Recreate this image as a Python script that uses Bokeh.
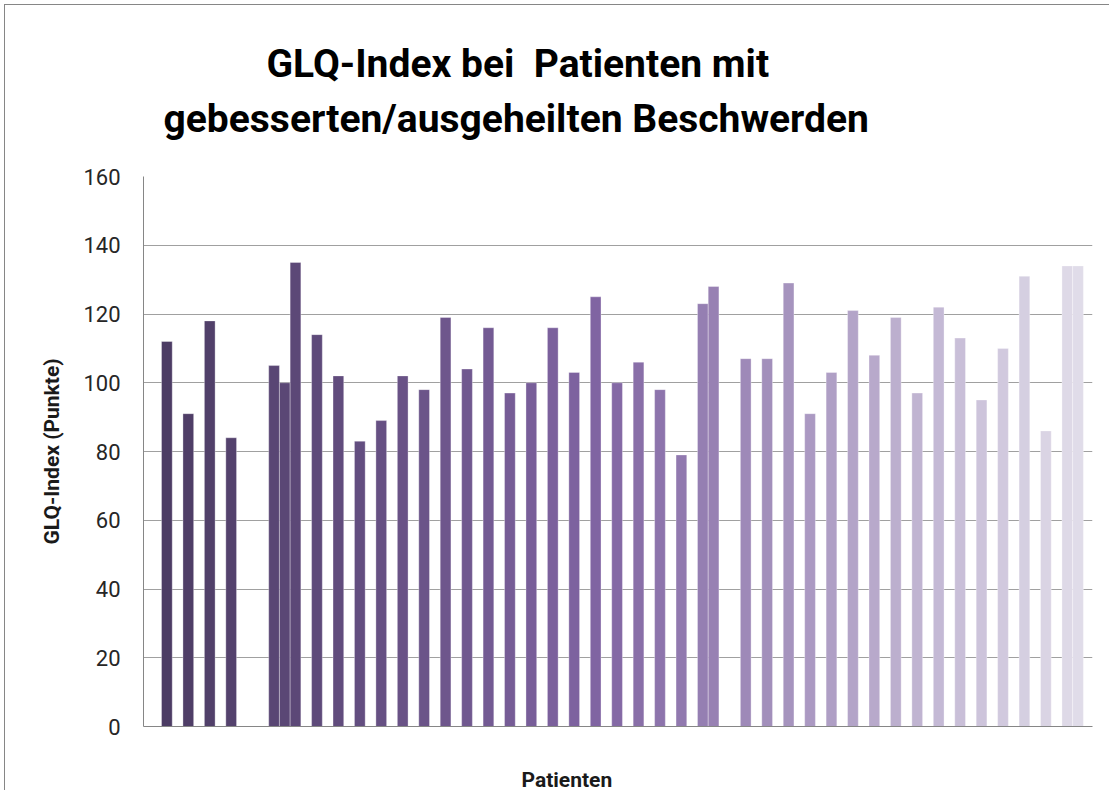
from bokeh.plotting import figure
from bokeh.models import Range1d, Title, FixedTicker, ColumnDataSource
from bokeh.embed import file_html
from bokeh.resources import INLINE

# ---- data -------------------------------------------------------------
title_lines = ["GLQ-Index bei\u00a0 Patienten mit", "gebesserten/ausgeheilten Beschwerden"]
y_title = "GLQ-Index (Punkte)"
x_title = "Patienten"
y_ticks = [0, 20, 40, 60, 80, 100, 120, 140, 160]

# GLQ index per patient column (None = empty cell in the sheet)
glq_index = [112, None, 91, None, 118, None, 84, None, None, None,
             105, 100, 135, None, 114, None, 102, None, 83, None,
             89, None, 102, None, 98, None, 119, None, 104, None,
             116, None, 97, None, 100, None, 116, None, 103, None,
             125, None, 100, None, 106, None, 98, None, 79, None,
             123, 128, None, None, 107, None, 107, None, 129, None,
             91, None, 103, None, 121, None, 108, None, 119, None,
             97, None, 122, None, 113, None, 95, None, 110, None,
             131, None, 86, None, 134, 134]

# ---- styling helpers --------------------------------------------------
dark = (76, 60, 100)
base = (128, 100, 162)
light = (224, 220, 233)
n = len(glq_index)


def shade(i):
    t = i / (n - 1)
    if t < 0.47:
        a, b, f = dark, base, t / 0.47
    else:
        a, b, f = base, light, (t - 0.47) / 0.53
    r, g, bl = (round(a[k] + (b[k] - a[k]) * f) for k in range(3))
    return "#%02x%02x%02x" % (r, g, bl)


xs, tops, cols = [], [], []
for i, v in enumerate(glq_index):
    if v is None:
        continue
    xs.append(i + 0.5)
    tops.append(v)
    cols.append(shade(i))

src = ColumnDataSource(dict(x=xs, top=tops, color=cols))

FONT = "Roboto"

p = figure(width=1105, height=786, output_backend="svg", toolbar_location=None,
           title=None,
           x_range=Range1d(-1.68, 86.85), y_range=Range1d(0, 160),
           min_border_left=138, min_border_right=18, min_border_top=171,
           min_border_bottom=64,
           styles={"border-top": "1px solid #868686", "border-left": "1px solid #868686",
                   "margin-left": "4px", "margin-top": "4px"})
p.outline_line_color = None
p.background_fill_color = "white"
p.border_fill_color = "white"

p.vbar(x="x", top="top", bottom=0, width=1.0, color="color", source=src,
       line_color="white", line_alpha=0.55, line_width=0.6)

# y axis
p.yaxis.ticker = FixedTicker(ticks=y_ticks)
p.yaxis.axis_line_color = "#868686"
p.yaxis.major_tick_line_color = None
p.yaxis.major_tick_out = 0
p.yaxis.major_tick_in = 0
p.yaxis.minor_tick_line_color = None
p.yaxis.major_label_text_font = FONT
p.yaxis.major_label_text_font_size = "22px"
p.yaxis.major_label_text_color = "#262626"
p.yaxis.major_label_standoff = 23
p.yaxis.axis_label = y_title
p.yaxis.axis_label_text_font = FONT
p.yaxis.axis_label_text_font_style = "bold"
p.yaxis.axis_label_text_font_size = "21px"
p.yaxis.axis_label_text_color = "#1a1a1a"
p.yaxis.axis_label_standoff = 16

# x axis: line only
p.xaxis.ticker = FixedTicker(ticks=[])
p.xaxis.axis_line_color = "#868686"
p.xaxis.major_tick_line_color = None
p.xaxis.minor_tick_line_color = None
p.xaxis.major_label_text_font_size = "0px"

p.xgrid.grid_line_color = None
p.ygrid.ticker = FixedTicker(ticks=y_ticks)
p.ygrid.grid_line_color = "#a0a0a0"
p.ygrid.grid_line_width = 1

# titles (stacked outward from the plot frame)
spacer_top = Title(text=" ", text_font_size="1px", standoff=32)
t2 = Title(text=title_lines[1], align="left", offset=20, standoff=0,
           text_font=FONT, text_font_style="bold", text_font_size="39px", text_color="black")
t1 = Title(text=title_lines[0], align="left", offset=123, standoff=14,
           text_font=FONT, text_font_style="bold", text_font_size="39px", text_color="black")
p.add_layout(spacer_top, "above")
p.add_layout(t2, "above")
p.add_layout(t1, "above")

spacer_bottom = Title(text=" ", text_font_size="1px", standoff=36)
tx = Title(text=x_title, align="left", offset=378, standoff=0,
           text_font=FONT, text_font_style="bold", text_font_size="21px", text_color="#1a1a1a")
p.add_layout(spacer_bottom, "below")
p.add_layout(tx, "below")

open("out.html", "w").write(file_html(p, INLINE))
